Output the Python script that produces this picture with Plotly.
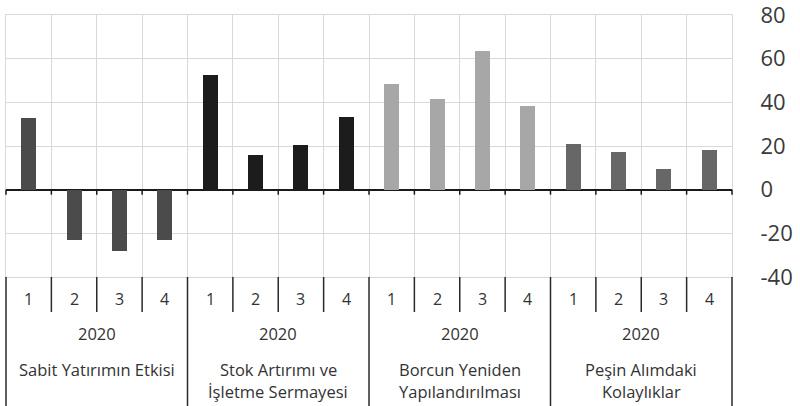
import plotly.graph_objects as go

# ---- data ----
groups = ["Sabit Yatırımın Etkisi", "Stok Artırımı ve<br>İşletme Sermayesi",
          "Borcun Yeniden<br>Yapılandırılması", "Peşin Alımdaki<br>Kolaylıklar"]
quarters = ["1", "2", "3", "4"]
year_label = "2020"
sabit = [32.6, -23.0, -28.0, -23.0]
stok = [52.6, 16.1, 20.5, 33.3]
borc = [48.6, 41.5, 63.6, 38.2]
pesin = [21.0, 17.2, 9.3, 18.2]
y_ticks = [-40, -20, 0, 20, 40, 60, 80]
y_tick_labels = ["-40", "-20", "0", "20", "40", "60", "80"]

series = [sabit, stok, borc, pesin]
colors = ["#4b4b4b", "#1c1c1c", "#a7a7a7", "#676767"]

W, H = 800, 406
ML, MR, MT, MB = 6, 68, 15, 129
plot_h = H - MT - MB

def py(pix):
    return (H - MB - pix) / plot_h

nq = len(quarters)
ncat = len(groups) * nq
FONT = "Open Sans"
TXT = "#333333"

fig = go.Figure()
for gi, vals in enumerate(series):
    xs = [gi * nq + qi + 0.5 for qi in range(nq)]
    fig.add_trace(go.Bar(x=xs, y=vals, width=0.33, marker_color=colors[gi],
                         marker_line_width=0, showlegend=False,
                         hoverinfo="y"))

shapes = []
ymin, ymax = y_ticks[0], y_ticks[-1]
zero_paper = (0 - ymin) / (ymax - ymin)
for i in range(ncat + 1):
    xp = i / ncat
    # tick marks under zero line
    shapes.append(dict(type="line", xref="paper", yref="paper", x0=xp, x1=xp,
                       y0=zero_paper, y1=zero_paper - 5 / plot_h,
                       line=dict(color="#1a1a1a", width=1.5)))
    bottom = H if i % nq == 0 else 312
    shapes.append(dict(type="line", xref="paper", yref="paper", x0=xp, x1=xp,
                       y0=0, y1=py(bottom), line=dict(color="#2a2a2a", width=1.5)))

annotations = []
for gi, g in enumerate(groups):
    for qi, q in enumerate(quarters):
        annotations.append(dict(x=gi * nq + qi + 0.5, xref="x", y=py(299), yref="paper",
                                text=q, showarrow=False, yanchor="middle",
                                font=dict(family=FONT, size=16, color=TXT)))
    center = gi * nq + nq / 2
    annotations.append(dict(x=center, xref="x", y=py(333), yref="paper",
                            text=year_label, showarrow=False, yanchor="middle",
                            font=dict(family=FONT, size=16.5, color=TXT)))
    for li, line in enumerate(g.split("<br>")):
        annotations.append(dict(x=center, xref="x", y=py(369 + 22 * li), yref="paper",
                                text=line, showarrow=False, yanchor="middle",
                                font=dict(family=FONT, size=16.5, color=TXT)))

fig.update_layout(
    width=W, height=H,
    margin=dict(l=ML, r=MR, t=MT, b=MB, autoexpand=False),
    plot_bgcolor="white", paper_bgcolor="white",
    bargap=0, barmode="overlay",
    shapes=shapes, annotations=annotations,
    xaxis=dict(range=[0, ncat], tick0=0, dtick=1, showticklabels=False,
               showgrid=True, gridcolor="#d9d9d9", gridwidth=1.2,
               showline=True, linecolor="#d9d9d9", linewidth=1.2, mirror=True,
               zeroline=False, ticks="", fixedrange=True),
    yaxis=dict(range=[ymin, ymax], tickvals=y_ticks, ticktext=y_tick_labels, side="right",
               showgrid=True, gridcolor="#d9d9d9", gridwidth=1.2,
               showline=True, linecolor="#d9d9d9", linewidth=1.2, mirror=True,
               zeroline=True, zerolinecolor="#1a1a1a", zerolinewidth=1.8,
               ticks="", ticklabelstandoff=23, automargin=False,
               ticklabeloverflow="allow",
               tickfont=dict(family=FONT, size=22, color="#3a3a3a"), fixedrange=True),
)

fig.write_html("out.html", config={"displayModeBar": False},
               post_script="document.body.style.margin='0px';")
